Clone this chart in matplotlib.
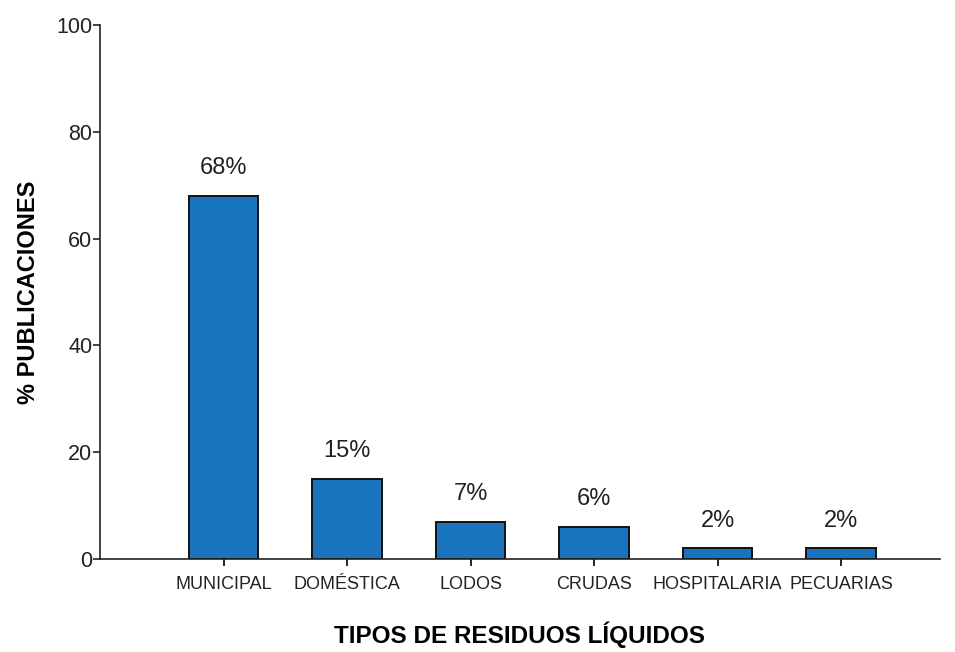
import matplotlib
matplotlib.use('Agg')
import matplotlib.pyplot as plt
import numpy as np

plt.rcParams['font.family'] = ['Liberation Sans', 'DejaVu Sans']

tipos = ['MUNICIPAL', 'DOMÉSTICA', 'LODOS', 'CRUDAS', 'HOSPITALARIA', 'PECUARIAS']
porcentajes = [68, 15, 7, 6, 2, 2]
yticks = [0, 20, 40, 60, 80, 100]

fig = plt.figure(figsize=(9.55, 6.52), dpi=100)
ax = fig.add_axes([0.1047, 0.1426, 0.8795, 0.8191])

x = np.arange(len(tipos))
bars = ax.bar(x, porcentajes, width=0.565, color='#1a74bd', edgecolor='#111111', linewidth=1.4)

# etiqueta de porcentaje encima de cada barra
for b, v in zip(bars, porcentajes):
    ax.annotate(f'{v}%', (b.get_x() + b.get_width() / 2, v), xytext=(0, 12),
                textcoords='offset points', ha='center', va='bottom',
                fontsize=17, color='#222222')

ax.set_xlim(-1.0, 5.8)
ax.set_ylim(0, 100)
ax.set_yticks(yticks)
ax.set_xticks(x)
ax.set_xticklabels(tipos, fontsize=13, color='#222222')
ax.tick_params(axis='y', labelsize=15.5, length=5, width=1.2, pad=0.5, colors='#222222')
ax.tick_params(axis='x', length=5, width=1.2, pad=7)

for side in ['top', 'right']:
    ax.spines[side].set_visible(False)
for side in ['left', 'bottom']:
    ax.spines[side].set_linewidth(1.2)
    ax.spines[side].set_color('#222222')

ax.set_ylabel('% PUBLICACIONES', fontsize=17, fontweight='bold', labelpad=12)
ax.set_xlabel('TIPOS DE RESIDUOS LÍQUIDOS', fontsize=17.5, fontweight='bold', labelpad=21)

fig.savefig('out.png', dpi=100)
